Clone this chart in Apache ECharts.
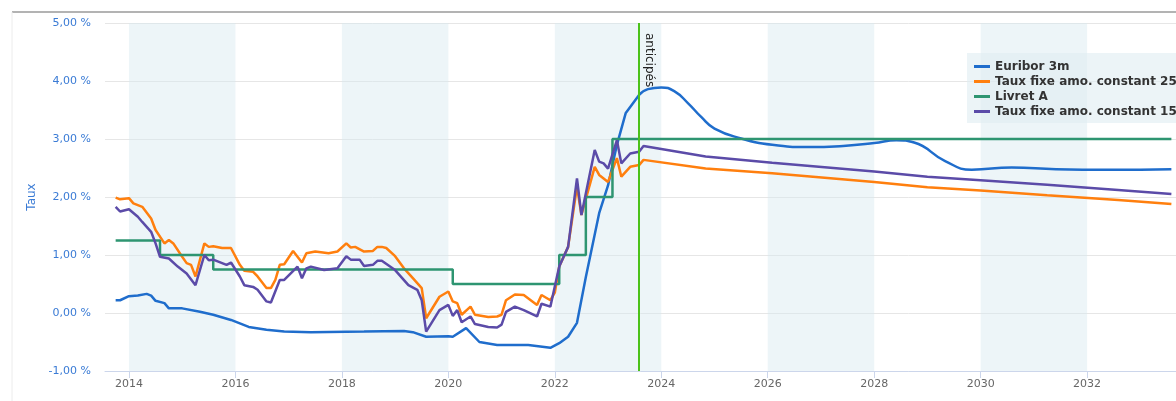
<!DOCTYPE html>
<html>
<head>
<meta charset="utf-8">
<script src="https://cdn.jsdelivr.net/npm/echarts@6/dist/echarts.min.js"></script>
<style>
  html, body { margin: 0; padding: 0; background: #fff; }
  #main { width: 1176px; height: 401px; }
</style>
</head>
<body>
<div id="main"></div>
<script>
// libellés de l'axe des années
const tickYears = [2014, 2016, 2018, 2020, 2022, 2024, 2026, 2028, 2030, 2032];
// bandes grisées (une période de deux ans sur deux)
const bands = [[2014, 2016], [2018, 2020], [2022, 2024], [2026, 2028], [2030, 2032]];
const forecastStart = '2023-08';

// Euribor 3m historique
const euriborHist = [
  ['2013-10', 0.22], ['2013-11', 0.22], ['2014-01', 0.29], ['2014-03', 0.30], ['2014-05', 0.33],
  ['2014-06', 0.30], ['2014-07', 0.21], ['2014-09', 0.17], ['2014-10', 0.08], ['2015-01', 0.08],
  ['2015-05', 0.02], ['2015-08', -0.03], ['2015-12', -0.12], ['2016-04', -0.24], ['2016-08', -0.29],
  ['2016-12', -0.32], ['2017-06', -0.33], ['2018-06', -0.32], ['2019-03', -0.31], ['2019-05', -0.33],
  ['2019-08', -0.41], ['2020-01', -0.40], ['2020-02', -0.41], ['2020-05', -0.26], ['2020-08', -0.50],
  ['2020-12', -0.55], ['2021-07', -0.55], ['2021-12', -0.60], ['2022-02', -0.52], ['2022-04', -0.41],
  ['2022-06', -0.17], ['2022-08', 0.62], ['2022-11', 1.72], ['2023-01', 2.20], ['2023-03', 2.90],
  ['2023-05', 3.45], ['2023-08', 3.76]
];
// Euribor 3m anticipé
const euriborForecast = [
  ['2023-08', 3.76], ['2023-10', 3.86], ['2024-01', 3.89], ['2024-04', 3.82], ['2024-07', 3.62],
  ['2024-10', 3.38], ['2025-01', 3.18], ['2025-07', 3.01], ['2026-02', 2.90], ['2026-10', 2.86],
  ['2027-06', 2.88], ['2028-01', 2.93], ['2028-06', 2.98], ['2028-10', 2.94], ['2029-05', 2.62],
  ['2029-11', 2.47], ['2030-08', 2.51], ['2031-06', 2.48], ['2032-06', 2.47], ['2033-08', 2.48]
];
// Taux fixe 25 ans
const fixe25 = [
  ['2013-10', 1.99], ['2013-11', 1.96], ['2014-01', 1.98], ['2014-02', 1.89], ['2014-04', 1.83],
  ['2014-06', 1.63], ['2014-07', 1.43], ['2014-09', 1.20], ['2014-10', 1.26], ['2014-11', 1.20],
  ['2015-01', 0.97], ['2015-02', 0.86], ['2015-03', 0.83], ['2015-04', 0.63], ['2015-06', 1.20],
  ['2015-07', 1.14], ['2015-08', 1.15], ['2015-10', 1.12], ['2015-12', 1.12], ['2016-02', 0.83],
  ['2016-03', 0.73], ['2016-05', 0.71], ['2016-06', 0.63], ['2016-08', 0.43], ['2016-09', 0.43],
  ['2016-10', 0.57], ['2016-11', 0.83], ['2016-12', 0.84], ['2017-02', 1.07], ['2017-04', 0.87],
  ['2017-05', 1.03], ['2017-07', 1.06], ['2017-10', 1.03], ['2017-12', 1.06], ['2018-02', 1.20],
  ['2018-03', 1.13], ['2018-04', 1.14], ['2018-06', 1.06], ['2018-08', 1.07], ['2018-09', 1.14],
  ['2018-10', 1.14], ['2018-11', 1.12], ['2019-01', 0.98], ['2019-03', 0.77], ['2019-05', 0.60],
  ['2019-07', 0.43], ['2019-08', -0.09], ['2019-11', 0.28], ['2020-01', 0.37], ['2020-02', 0.20],
  ['2020-03', 0.17], ['2020-04', -0.03], ['2020-06', 0.11], ['2020-07', -0.03], ['2020-10', -0.07],
  ['2020-12', -0.06], ['2021-01', -0.03], ['2021-02', 0.22], ['2021-04', 0.32], ['2021-06', 0.31],
  ['2021-09', 0.14], ['2021-10', 0.31], ['2021-12', 0.22], ['2022-01', 0.35], ['2022-02', 0.80],
  ['2022-04', 1.14], ['2022-06', 2.18], ['2022-07', 1.69], ['2022-10', 2.52], ['2022-11', 2.38],
  ['2023-01', 2.26], ['2023-03', 2.67], ['2023-04', 2.35], ['2023-06', 2.52], ['2023-08', 2.55],
  ['2023-09', 2.64], ['2024-11', 2.49], ['2026-02', 2.41], ['2028-01', 2.26], ['2029-01', 2.17],
  ['2030-01', 2.11], ['2031-04', 2.03], ['2032-08', 1.95], ['2033-08', 1.88]
];
// Livret A (paliers)
const livretA = [
  ['2013-10', 1.25], ['2014-08', 1.0], ['2015-08', 0.75], ['2020-02', 0.5], ['2022-02', 1.0],
  ['2022-08', 2.0], ['2023-02', 3.0], ['2033-08', 3.0]
];
// Taux fixe 15 ans
const fixe15 = [
  ['2013-10', 1.83], ['2013-11', 1.75], ['2014-01', 1.79], ['2014-03', 1.66], ['2014-04', 1.57],
  ['2014-06', 1.40], ['2014-07', 1.20], ['2014-08', 0.97], ['2014-10', 0.94], ['2014-12', 0.80],
  ['2015-02', 0.68], ['2015-04', 0.48], ['2015-06', 1.00], ['2015-07', 0.91], ['2015-08', 0.92],
  ['2015-11', 0.83], ['2015-12', 0.87], ['2016-02', 0.63], ['2016-03', 0.48], ['2016-05', 0.45],
  ['2016-06', 0.40], ['2016-08', 0.20], ['2016-09', 0.18], ['2016-11', 0.57], ['2016-12', 0.57],
  ['2017-03', 0.80], ['2017-04', 0.60], ['2017-05', 0.77], ['2017-06', 0.80], ['2017-09', 0.74],
  ['2017-12', 0.77], ['2018-02', 0.98], ['2018-03', 0.92], ['2018-05', 0.92], ['2018-06', 0.81],
  ['2018-08', 0.83], ['2018-09', 0.90], ['2018-10', 0.90], ['2019-01', 0.74], ['2019-04', 0.48],
  ['2019-06', 0.40], ['2019-07', 0.22], ['2019-08', -0.32], ['2019-11', 0.05], ['2020-01', 0.14],
  ['2020-02', -0.05], ['2020-03', 0.05], ['2020-04', -0.16], ['2020-06', -0.06], ['2020-07', -0.19],
  ['2020-10', -0.24], ['2020-12', -0.25], ['2021-01', -0.20], ['2021-02', 0.02], ['2021-04', 0.11],
  ['2021-06', 0.05], ['2021-09', -0.06], ['2021-10', 0.16], ['2021-12', 0.11], ['2022-02', 0.80],
  ['2022-04', 1.14], ['2022-06', 2.32], ['2022-07', 1.69], ['2022-10', 2.81], ['2022-11', 2.61],
  ['2022-12', 2.58], ['2023-01', 2.49], ['2023-03', 2.98], ['2023-04', 2.58], ['2023-06', 2.75],
  ['2023-08', 2.78], ['2023-09', 2.88], ['2024-11', 2.70], ['2026-02', 2.59], ['2028-01', 2.44],
  ['2029-01', 2.35], ['2030-01', 2.29], ['2031-04', 2.21], ['2032-08', 2.12], ['2033-08', 2.05]
];

// 'AAAA-MM' -> année décimale pour l'axe des x
function toYear(s) {
  const p = s.split('-');
  return +p[0] + (+p[1] - 1) / 12;
}
function toPoints(list) {
  return list.map((d) => [toYear(d[0]), d[1]]);
}

const font = 'DejaVu Sans';
const chart = echarts.init(document.getElementById('main'));

const option = {
  animation: false,
  textStyle: { fontFamily: font },
  grid: { left: 105, right: 0, top: 23, bottom: 30 },
  // cadre du bloc
  graphic: [
    { type: 'line', shape: { x1: 12, y1: 12, x2: 1176, y2: 12 }, style: { stroke: '#9a9a9a', lineWidth: 1.5 } },
    { type: 'line', shape: { x1: 12, y1: 12, x2: 12, y2: 401 }, style: { stroke: '#ececec', lineWidth: 1 } }
  ],
  legend: {
    orient: 'vertical',
    left: 967,
    top: 53,
    padding: [6, 7, 4, 7],
    itemGap: 0,
    itemWidth: 16,
    itemHeight: 3,
    icon: 'rect',
    backgroundColor: 'rgba(224,236,242,0.6)',
    textStyle: { fontFamily: font, fontSize: 12, fontWeight: 'bold', color: '#333', lineHeight: 15 },
    data: ['Euribor 3m', 'Taux fixe amo. constant 25', 'Livret A', 'Taux fixe amo. constant 15']
  },
  xAxis: {
    type: 'value',
    min: 2013.55,
    max: 2033.67,
    axisLine: { onZero: false, lineStyle: { color: '#ccd6eb' } },
    axisTick: {
      length: 7,
      lineStyle: { color: '#ccd6eb' },
      customValues: tickYears
    },
    axisLabel: {
      color: '#666',
      fontSize: 11,
      margin: 8,
      customValues: tickYears,
      formatter: (v) => String(Math.round(v))
    },
    splitLine: { show: false }
  },
  yAxis: {
    type: 'value',
    min: -1,
    max: 5,
    interval: 1,
    name: 'Taux',
    nameLocation: 'middle',
    nameGap: 57,
    nameTextStyle: { color: '#3a7bd5', fontSize: 12 },
    axisLine: { show: false },
    axisTick: { show: false },
    axisLabel: {
      color: '#3a7bd5',
      fontSize: 11,
      margin: 14,
      formatter: (v) => v.toFixed(2).replace('.', ',') + ' %'
    },
    splitLine: { lineStyle: { color: '#e6e6e6' } }
  },
  series: [
    {
      name: 'Euribor 3m',
      type: 'line',
      showSymbol: false,
      color: '#1f6dcc',
      lineStyle: { width: 2.5 },
      data: toPoints(euriborHist),
      markArea: {
        silent: true,
        itemStyle: { color: 'rgba(214,232,240,0.45)' },
        data: bands.map((b) => [{ xAxis: b[0] }, { xAxis: b[1] }])
      }
    },
    {
      name: 'Euribor 3m',
      type: 'line',
      showSymbol: false,
      smooth: 0.5,
      color: '#1f6dcc',
      lineStyle: { width: 2.5 },
      data: toPoints(euriborForecast)
    },
    {
      name: 'Taux fixe amo. constant 25',
      type: 'line',
      showSymbol: false,
      color: '#ff7f0e',
      lineStyle: { width: 2.5 },
      data: toPoints(fixe25)
    },
    {
      name: 'Livret A',
      type: 'line',
      showSymbol: false,
      step: 'end',
      color: '#2e9571',
      lineStyle: { width: 2.5 },
      data: toPoints(livretA)
    },
    {
      name: 'Taux fixe amo. constant 15',
      type: 'line',
      showSymbol: false,
      color: '#5b4ba8',
      lineStyle: { width: 2.5 },
      data: toPoints(fixe15),
      // limite entre historique et valeurs anticipées
      markLine: {
        silent: true,
        symbol: ['none', 'none'],
        lineStyle: { color: '#4cc21a', width: 2, type: 'solid' },
        label: {
          show: true,
          position: 'insideStartTop',
          formatter: 'anticipés',
          color: '#222',
          fontSize: 12,
          fontFamily: font,
          distance: [10, 4]
        },
        data: [[{ coord: [toYear(forecastStart), 5] }, { coord: [toYear(forecastStart), -1] }]]
      }
    }
  ]
};
chart.setOption(option);
</script>
</body>
</html>
